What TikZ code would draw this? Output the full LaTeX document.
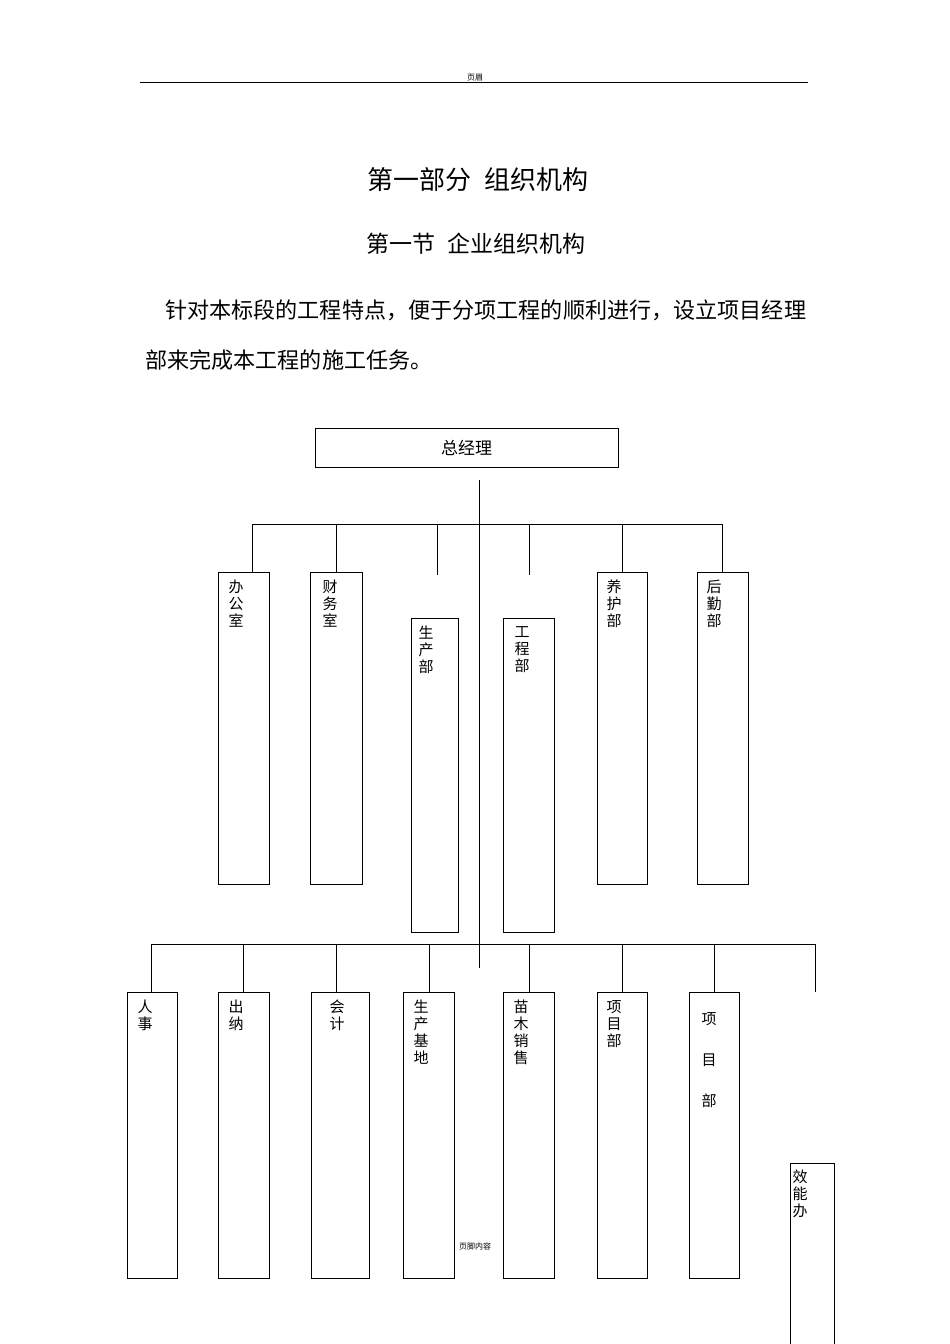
\documentclass[tikz,border=0pt]{standalone}
\usepackage{fontspec}
\setmainfont{Noto Sans CJK SC}
\begin{document}
\begin{tikzpicture}[x=1pt,y=-1pt,
  box/.style={draw,line width=0.9pt,anchor=north west,inner sep=0pt},
  lbl/.style={anchor=north,font=\fontsize{15}{17}\selectfont,align=center,inner sep=0pt},
  ln/.style={line width=0.8pt}]
\useasboundingbox (0,0) rectangle (950,1344);
\draw[line width=0.8pt] (140,82) -- (808,82);
\node[font=\fontsize{8}{8}\selectfont] (hd) at (475,78) {页眉};
\node[font=\fontsize{26}{27}\selectfont] (t1) at (478,180) {第一部分\hspace{14pt}组织机构};
\node[font=\fontsize{23}{24}\selectfont] (t2) at (476,244) {第一节\hspace{12pt}企业组织机构};
\node[font=\fontsize{22.1}{23}\selectfont,anchor=west,inner sep=0pt] (p1) at (165,310) {针对本标段的工程特点，便于分项工程的顺利进行，设立项目经理};
\node[font=\fontsize{22.1}{23}\selectfont,anchor=west,inner sep=0pt] (p2) at (145,360) {部来完成本工程的施工任务。};
\node[draw,line width=0.9pt,minimum width=303pt,minimum height=39pt,font=\fontsize{17}{18}\selectfont] (gm) at (466.5,447.5) {总经理};
\coordinate (tt) at (479,480); \coordinate (tb) at (479,968);
\draw[ln] (tt) -- (tb);
\coordinate (h1l) at (252,524); \coordinate (h1r) at (722,524);
\draw[ln] (h1l) -- (h1r);
\node[box,minimum width=51pt,minimum height=312pt] (b1) at (218,572) {};
\node[box,minimum width=52pt,minimum height=312pt] (b2) at (310,572) {};
\node[box,minimum width=47pt,minimum height=314pt] (b3) at (411,618) {};
\node[box,minimum width=51pt,minimum height=314pt] (b4) at (503,618) {};
\node[box,minimum width=50pt,minimum height=312pt] (b5) at (597,572) {};
\node[box,minimum width=51pt,minimum height=312pt] (b6) at (697,572) {};
\draw[ln] (h1l) -- (b1.north west -| h1l);
\draw[ln] (336,524) -- (b2.north west -| 336,0);
\draw[ln] (437,524) -- (437,575);
\draw[ln] (529,524) -- (529,575);
\draw[ln] (622,524) -- (b5.north west -| 622,0);
\draw[ln] (h1r) -- (b6.north west -| h1r);
\node[lbl] (l1) at (236,580) {办\\公\\室};
\node[lbl] (l2) at (330,580) {财\\务\\室};
\node[lbl] (l3) at (426,626) {生\\产\\部};
\node[lbl] (l4) at (522,626) {工\\程\\部};
\node[lbl] (l5) at (614,580) {养\\护\\部};
\node[lbl] (l6) at (714,580) {后\\勤\\部};
\coordinate (h2l) at (151,944); \coordinate (h2r) at (815,944);
\draw[ln] (h2l) -- (h2r);
\node[box,minimum width=50pt,minimum height=286pt] (c1) at (127,992) {};
\node[box,minimum width=51pt,minimum height=286pt] (c2) at (218,992) {};
\node[box,minimum width=58pt,minimum height=286pt] (c3) at (311,992) {};
\node[box,minimum width=51pt,minimum height=286pt] (c4) at (403,992) {};
\node[box,minimum width=51pt,minimum height=286pt] (c5) at (503,992) {};
\node[box,minimum width=50pt,minimum height=286pt] (c6) at (597,992) {};
\node[box,minimum width=50pt,minimum height=286pt] (c7) at (689,992) {};
\draw[line width=0.9pt] (790,1350) -- (790,1163) -- (834,1163) -- (834,1350);
\draw[ln] (h2l) -- (c1.north west -| h2l);
\draw[ln] (243,944) -- (243,992);
\draw[ln] (336,944) -- (336,992);
\draw[ln] (429,944) -- (429,992);
\draw[ln] (529,944) -- (529,992);
\draw[ln] (622,944) -- (622,992);
\draw[ln] (714,944) -- (714,992);
\draw[ln] (h2r) -- (815,992);
\node[lbl] (m1) at (145,1000) {人\\事};
\node[lbl] (m2) at (236,1000) {出\\纳};
\node[lbl] (m3) at (337,1000) {会\\计};
\node[lbl] (m4) at (421,1000) {生\\产\\基\\地};
\node[lbl] (m5) at (521,1000) {苗\\木\\销\\售};
\node[lbl] (m6) at (614,1000) {项\\目\\部};
\node[lbl] (m7) at (709,1012) {项\\[24pt]目\\[24pt]部};
\node[lbl] (m8) at (800,1170) {效\\能\\办};
\node[font=\fontsize{8}{8}\selectfont] (ft) at (475,1246) {页脚内容};
\end{tikzpicture}
\end{document}
